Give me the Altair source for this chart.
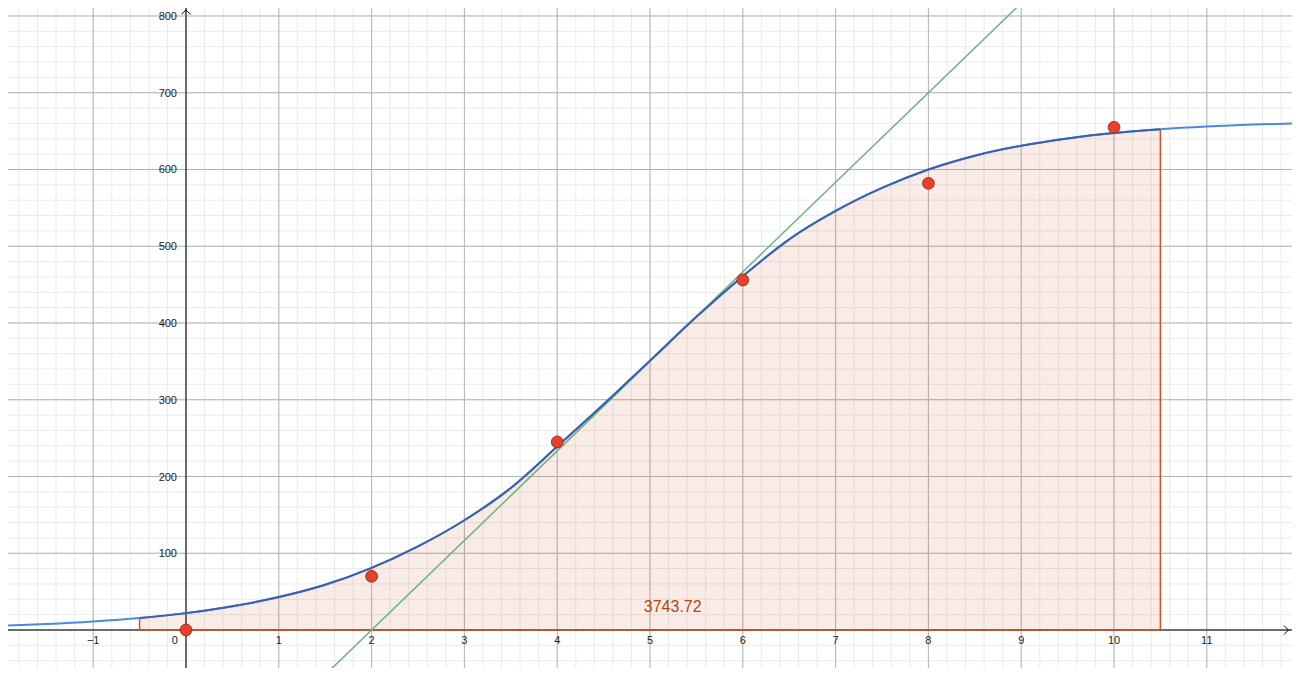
import altair as alt
import numpy as np
import pandas as pd

# ---- data ----
curve_x = [-2.0, -1.5, -1.0, -0.5, 0.0, 0.5, 1.0, 1.5, 2.0, 2.5, 3.0, 3.5, 4.0, 4.5,
           5.0, 5.5, 6.0, 6.5, 7.0, 7.5, 8.0, 8.5, 9.0, 9.5, 10.0, 10.5, 11.0, 11.5, 12.0]
curve_y = [5.5, 7.8, 11.1, 15.6, 22.0, 30.9, 43.0, 59.0, 81.0, 109.0, 143.0, 185.0,
           239.0, 294.0, 351.0, 408.0, 461.0, 509.0, 546.0, 576.0, 600.0, 618.0, 631.0,
           640.5, 647.5, 652.5, 656.0, 658.5, 660.0]

tangent_x = [1.4, 9.1]
tangent_y = [-70.0, 828.3]

pts_x = [0, 2, 4, 6, 8, 10]
pts_y = [0, 70, 245, 456, 582, 655]

area_from = -0.5
area_to = 10.5
area_label = "3743.72"
area_label_x = [5.245]
area_label_y = [29.6]

xtick_vals = [-1, 1, 2, 3, 4, 5, 6, 7, 8, 9, 10, 11]
xtick_text = ["−1", "1", "2", "3", "4", "5", "6", "7", "8", "9", "10", "11"]
ytick_vals = [100, 200, 300, 400, 500, 600, 700, 800]
ytick_text = ["100", "200", "300", "400", "500", "600", "700", "800"]

# ---- tables ----
curve = pd.DataFrame({"x": curve_x, "y": curve_y})
inside = curve[(curve.x >= area_from) & (curve.x <= area_to)].copy()
inside["y0"] = 0.0
tangent = pd.DataFrame({"x": tangent_x, "y": tangent_y})
pts = pd.DataFrame({"x": pts_x, "y": pts_y})
xt = pd.DataFrame({"x": xtick_vals, "y": [0] * len(xtick_vals), "t": xtick_text})
yt = pd.DataFrame({"x": [0] * len(ytick_vals), "y": ytick_vals, "t": ytick_text})
origin = pd.DataFrame({"x": [0], "y": [0], "t": ["0"]})
lab = pd.DataFrame({"x": area_label_x, "y": area_label_y, "t": [area_label]})
arrow_r = pd.DataFrame({"x": [11.88], "y": [0]})
arrow_u = pd.DataFrame({"x": [0], "y": [808]})
axis_h = pd.DataFrame({"y": [0]})
axis_v = pd.DataFrame({"x": [0]})

minor_x = pd.DataFrame({"x": np.round(np.arange(-2, 12.01, 0.2), 2)})
minor_y = pd.DataFrame({"y": np.arange(-60, 821, 20)})
major_x = pd.DataFrame({"x": np.arange(-2, 13, 1)})
major_y = pd.DataFrame({"y": np.arange(-100, 801, 100)})

edges = pd.DataFrame({"x": [area_from, area_to], "y0": [0.0, 0.0],
                      "y1": [inside.y.iloc[0], inside.y.iloc[-1]]})
bottom = pd.DataFrame({"x": [area_from], "x2": [area_to], "y": [0]})

XS = alt.Scale(domain=[-1.918, 11.918], zero=False, nice=False)
YS = alt.Scale(domain=[-49.5, 810.4], zero=False, nice=False)
FONT = "Liberation Sans"


def X(f="x"):
    return alt.X(f"{f}:Q", scale=XS, axis=None)


def Y(f="y"):
    return alt.Y(f"{f}:Q", scale=YS, axis=None)


grid_minor_v = alt.Chart(minor_x).mark_rule(color="#ebebeb", strokeWidth=1).encode(x=X())
grid_minor_h = alt.Chart(minor_y).mark_rule(color="#ebebeb", strokeWidth=1).encode(y=Y())
grid_major_v = alt.Chart(major_x).mark_rule(color="#b4b4b4", strokeWidth=1).encode(x=X())
grid_major_h = alt.Chart(major_y).mark_rule(color="#b4b4b4", strokeWidth=1).encode(y=Y())

area = alt.Chart(inside).mark_area(color="#cc4a1a", opacity=0.11, interpolate="monotone").encode(
    x=X(), y=Y(), y2="y0:Q")

axis_x = alt.Chart(axis_h).mark_rule(color="#000000", strokeWidth=1).encode(y=Y())
axis_y = alt.Chart(axis_v).mark_rule(color="#000000", strokeWidth=1).encode(x=X())

arrow_x = alt.Chart(arrow_r).mark_point(shape="M-1,-1L0,0L-1,1", filled=False, size=81,
                                        color="#000000", strokeWidth=1, opacity=1).encode(
    x=X(), y=Y())
arrow_y = alt.Chart(arrow_u).mark_point(shape="M-1,1L0,0L1,1", filled=False, size=81,
                                        color="#000000", strokeWidth=1, opacity=1).encode(
    x=X(), y=Y())

edge_rules = alt.Chart(edges).mark_rule(color="#c8552a", strokeWidth=1.5).encode(
    x=X(), y=Y("y0"), y2="y1:Q")
bottom_rule = alt.Chart(bottom).mark_rule(color="#c8552a", strokeWidth=1.5).encode(
    x=X(), x2="x2:Q", y=Y())

tangent_line = alt.Chart(tangent).mark_line(color="#6cb27f", strokeWidth=1.5, clip=True).encode(
    x=X(), y=Y())

curve_light = alt.Chart(curve).mark_line(color="#4a8ad8", strokeWidth=2, interpolate="monotone",
                                         clip=True).encode(x=X(), y=Y())
curve_dark = alt.Chart(inside).mark_line(color="#3c62ad", strokeWidth=2,
                                         interpolate="monotone").encode(x=X(), y=Y())

points = alt.Chart(pts).mark_point(filled=True, size=140, color="#e8402a", stroke="#8a2416",
                                   strokeWidth=0.8, opacity=1).encode(x=X(), y=Y())

xlabels = alt.Chart(xt).mark_text(font=FONT, fontSize=11, color="#222222", align="center",
                                  baseline="middle", dy=11).encode(x=X(), y=Y(), text="t:N")
origin_label = alt.Chart(origin).mark_text(font=FONT, fontSize=11, color="#222222",
                                           align="right", baseline="middle", dx=-8,
                                           dy=11).encode(x=X(), y=Y(), text="t:N")
ylabels = alt.Chart(yt).mark_text(font=FONT, fontSize=11, color="#222222", align="right",
                                  baseline="middle", dx=-9, dy=1).encode(x=X(), y=Y(), text="t:N")

area_text = alt.Chart(lab).mark_text(font=FONT, fontSize=16, color="#b5470e", align="center",
                                     baseline="middle").encode(x=X(), y=Y(), text="t:N")

chart = alt.layer(
    grid_minor_v, grid_minor_h, grid_major_v, grid_major_h,
    area, axis_x, axis_y, arrow_x, arrow_y,
    edge_rules, bottom_rule, tangent_line, curve_light, curve_dark,
    points, xlabels, origin_label, ylabels, area_text,
).properties(
    width=1284, height=660,
    autosize=alt.AutoSizeParams(type="none"),
    padding=0,
).configure_view(stroke=None)

chart.save("out.html", embed_options={"renderer": "svg", "actions": False})
